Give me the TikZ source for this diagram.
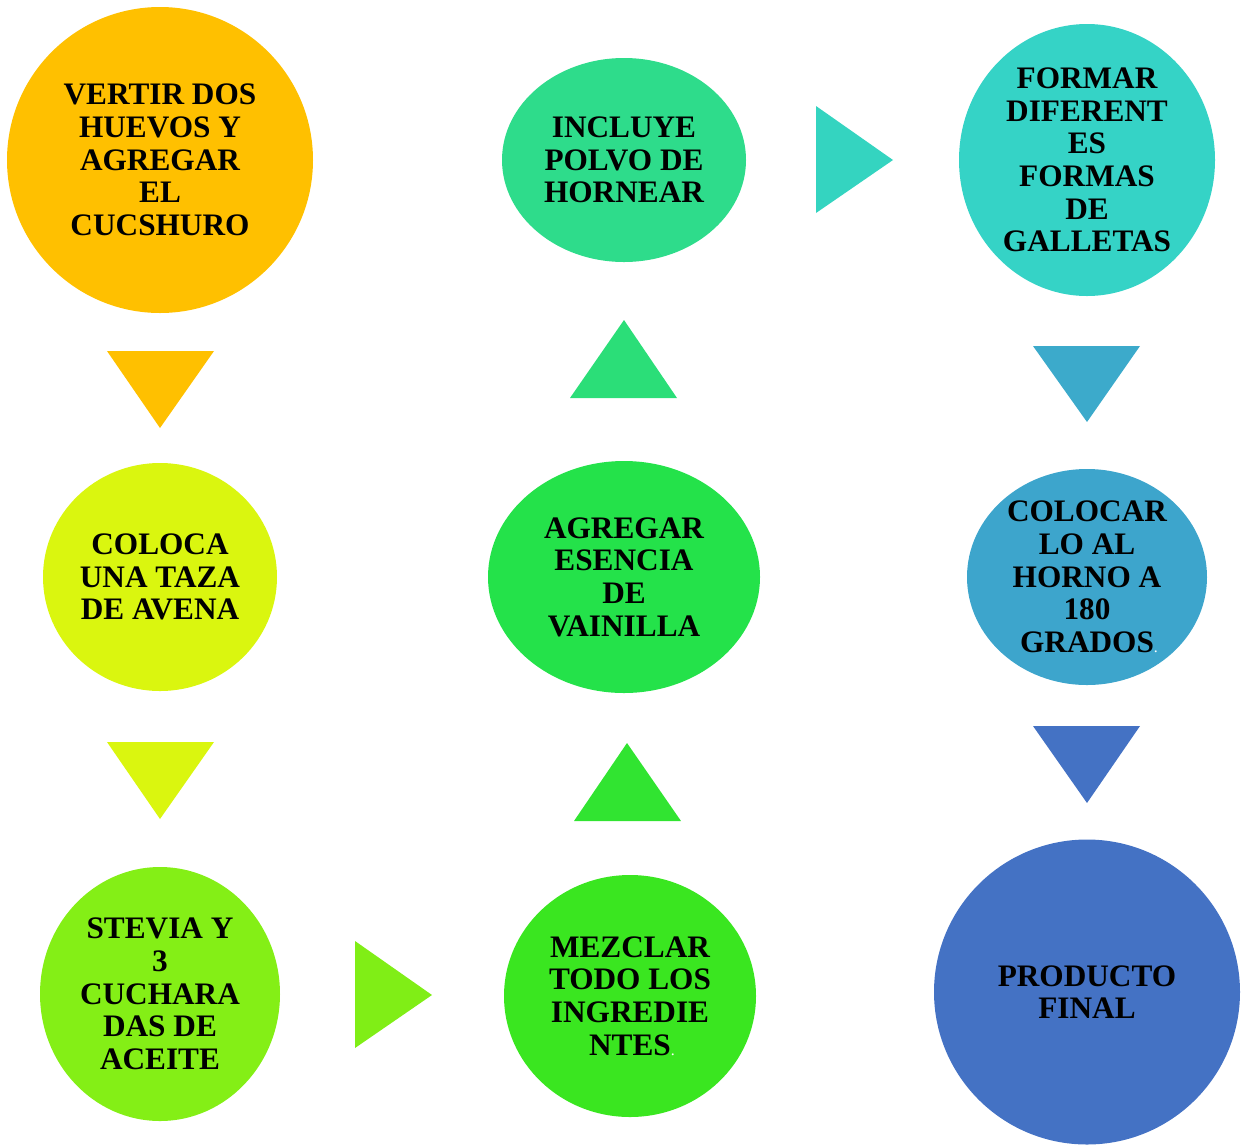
\documentclass[tikz,border=0pt]{standalone}
\usepackage{fontspec}
\setmainfont{Liberation Serif}
\usetikzlibrary{shapes.geometric}

\definecolor{cOrange}{HTML}{FFC000}
\definecolor{cYellow}{HTML}{DAF60F}
\definecolor{cLime}{HTML}{84EF16}
\definecolor{cGreenA}{HTML}{3AE620}
\definecolor{cGreenB}{HTML}{24E24A}
\definecolor{cGreenC}{HTML}{2EDC8B}
\definecolor{cTeal}{HTML}{35D3C6}
\definecolor{cBlueA}{HTML}{3DA5CC}
\definecolor{cBlueB}{HTML}{4472C4}

\tikzset{
  paso/.style={shape=ellipse,inner sep=0pt,align=center,
    font=\bfseries\fontsize{17.8}{18.6}\selectfont},
  punto/.style={text=white,font=\fontsize{9}{9}\selectfont}
}

\begin{document}
\begin{tikzpicture}
\useasboundingbox (0,0) rectangle (24.82,-22.88);
% pasos
\node[paso,fill=cOrange,minimum width=6.12cm,minimum height=6.12cm](vertir)at(3.2,-3.2){VERTIR DOS\\HUEVOS Y\\AGREGAR\\EL\\CUCSHURO};
\node[paso,fill=cYellow,minimum width=4.68cm,minimum height=4.56cm](coloca)at(3.2,-11.54){COLOCA\\UNA TAZA\\DE AVENA};
\node[paso,fill=cLime,minimum width=4.8cm,minimum height=5.08cm](stevia)at(3.2,-19.88){STEVIA Y\\3\\CUCHARA\\DAS DE\\ACEITE};
\node[paso,fill=cGreenA,minimum width=5.04cm,minimum height=4.84cm](mezclar)at(12.6,-19.92){MEZCLAR\\TODO LOS\\INGREDIE\\NTES\rlap{\textcolor{white}{\mdseries\fontsize{9}{9}\selectfont.}}};
\node[paso,fill=cGreenB,minimum width=5.44cm,minimum height=4.64cm](agregar)at(12.48,-11.54){AGREGAR\\ESENCIA\\DE\\VAINILLA};
\node[paso,fill=cGreenC,minimum width=4.88cm,minimum height=4.08cm](incluye)at(12.48,-3.2){INCLUYE\\POLVO DE\\HORNEAR};
\node[paso,fill=cTeal,minimum width=5.12cm,minimum height=5.44cm](formar)at(21.74,-3.2){FORMAR\\DIFERENT\\ES\\FORMAS\\DE\\GALLETAS};
\node[paso,fill=cBlueA,minimum width=4.8cm,minimum height=4.32cm](colocar)at(21.74,-11.54){COLOCAR\\LO AL\\HORNO A\\180\\GRADOS\rlap{\textcolor{white}{\mdseries\fontsize{9}{9}\selectfont.}}};
\node[paso,fill=cBlueB,minimum width=6.12cm,minimum height=6.1cm](producto)at(21.74,-19.84){PRODUCTO\\FINAL};
% flechas
\fill[cOrange] (2.14,-7.02) -- (4.28,-7.02) -- (3.2,-8.56) -- cycle;
\fill[cYellow] (2.14,-14.84) -- (4.28,-14.84) -- (3.2,-16.38) -- cycle;
\fill[cLime!95!cGreenA] (7.1,-18.82) -- (7.1,-20.96) -- (8.64,-19.9) -- cycle;
\fill[cGreenA!60!cGreenB] (11.48,-16.42) -- (13.62,-16.42) -- (12.54,-14.86) -- cycle;
\fill[cGreenB!30!cGreenC] (11.4,-7.96) -- (13.54,-7.96) -- (12.48,-6.4) -- cycle;
\fill[cTeal!90!cGreenC] (16.32,-2.12) -- (16.32,-4.26) -- (17.86,-3.2) -- cycle;
\fill[cBlueA!90!cTeal] (20.66,-6.92) -- (22.8,-6.92) -- (21.74,-8.44) -- cycle;
\fill[cBlueB] (20.66,-14.52) -- (22.8,-14.52) -- (21.74,-16.06) -- cycle;
\end{tikzpicture}
\end{document}
